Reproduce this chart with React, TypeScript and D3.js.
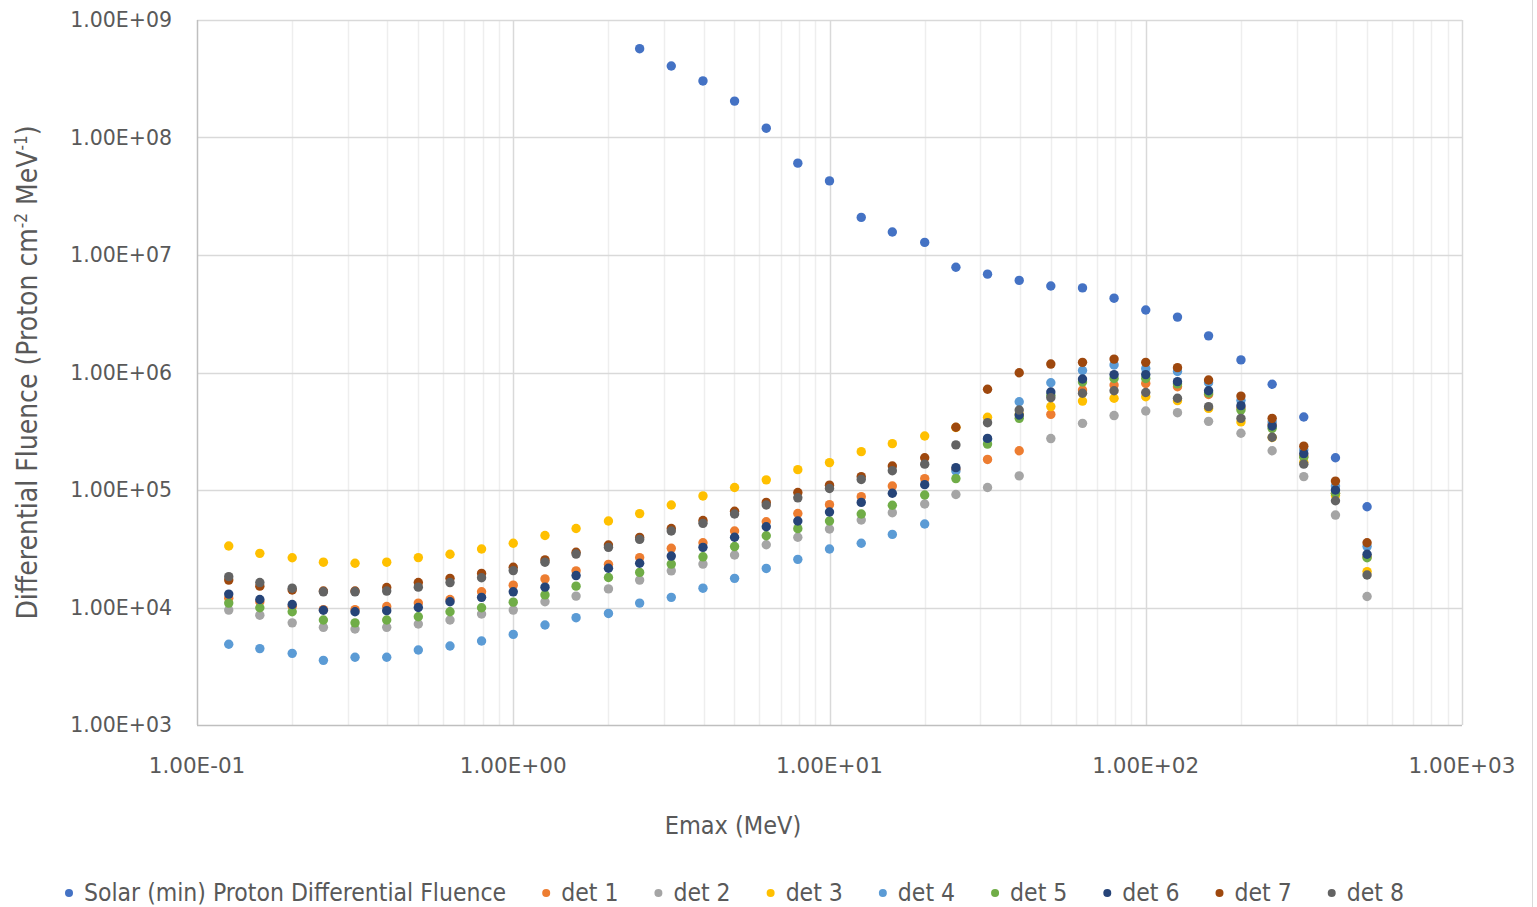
import { useRef, useEffect } from 'react';
import * as d3 from 'd3';

const W = 1537;
const H = 907;
const MARGIN = { top: 20, right: 75, bottom: 182, left: 197 };

// Emax (MeV) of each bin
const energy = [
  0.126, 0.158, 0.2, 0.251, 0.316, 0.398, 0.501, 0.631, 0.794, 1.0,
  1.26, 1.58, 2.0, 2.51, 3.16, 3.98, 5.01, 6.31, 7.94, 10,
  12.6, 15.8, 20, 25.1, 31.6, 39.8, 50.1, 63.1, 79.4, 100,
  126, 158, 200, 251, 316, 398, 501,
];

const solar = [
  null, null, null, null, null, null, null, null, null, null,
  null, null, null, 5.7e8, 4.06e8, 3.03e8, 2.04e8, 1.2e8, 6.05e7, 4.27e7,
  2.09e7, 1.57e7, 1.28e7, 7.87e6, 6.87e6, 6.08e6, 5.45e6, 5.25e6, 4.29e6, 3.4e6,
  2.96e6, 2.05e6, 1.28e6, 7.94e5, 4.18e5, 1.88e5, 7.2e4,
];
const det1 = [
  1.2e4, 1.12e4, 1.02e4, 9.6e3, 9.6e3, 1.02e4, 1.09e4, 1.17e4, 1.36e4, 1.55e4,
  1.75e4, 2.05e4, 2.33e4, 2.66e4, 3.19e4, 3.56e4, 4.48e4, 5.37e4, 6.31e4, 7.5e4,
  8.77e4, 1.08e5, 1.25e5, 1.5e5, 1.82e5, 2.16e5, 4.4e5, 7.1e5, 7.83e5, 8.07e5,
  7.57e5, 6.5e5, 5.0e5, 3.6e5, 1.95e5, 9.4e4, 2.7e4,
];
const det2 = [
  9.5e3, 8.6e3, 7.4e3, 6.78e3, 6.56e3, 6.78e3, 7.24e3, 7.83e3, 8.8e3, 9.5e3,
  1.12e4, 1.25e4, 1.44e4, 1.71e4, 2.05e4, 2.34e4, 2.8e4, 3.42e4, 3.96e4, 4.66e4,
  5.56e4, 6.41e4, 7.6e4, 9.16e4, 1.05e5, 1.32e5, 2.74e5, 3.69e5, 4.3e5, 4.7e5,
  4.55e5, 3.84e5, 3.04e5, 2.16e5, 1.3e5, 6.12e4, 1.24e4,
];
const det3 = [
  3.34e4, 2.89e4, 2.65e4, 2.43e4, 2.38e4, 2.43e4, 2.66e4, 2.84e4, 3.15e4, 3.52e4,
  4.1e4, 4.7e4, 5.45e4, 6.3e4, 7.45e4, 8.9e4, 1.05e5, 1.22e5, 1.49e5, 1.71e5,
  2.12e5, 2.48e5, 2.88e5, 3.4e5, 4.16e5, 4.4e5, 5.13e5, 5.71e5, 6.04e5, 6.22e5,
  5.76e5, 4.95e5, 3.8e5, 2.8e5, 1.72e5, 9.0e4, 2.02e4,
];
const det4 = [
  4.87e3, 4.47e3, 4.07e3, 3.55e3, 3.77e3, 3.77e3, 4.35e3, 4.7e3, 5.19e3, 5.9e3,
  7.1e3, 8.19e3, 8.9e3, 1.09e4, 1.22e4, 1.46e4, 1.77e4, 2.15e4, 2.57e4, 3.15e4,
  3.52e4, 4.19e4, 5.14e4, 1.45e5, 2.7e5, 5.64e5, 8.18e5, 1.04e6, 1.16e6, 1.08e6,
  1.02e6, 8.2e5, 5.8e5, 3.8e5, 2.2e5, 1.08e5, 3.3e4,
];
const det5 = [
  1.09e4, 9.96e3, 9.2e3, 7.83e3, 7.4e3, 7.83e3, 8.35e3, 9.2e3, 9.96e3, 1.11e4,
  1.28e4, 1.52e4, 1.8e4, 1.99e4, 2.34e4, 2.7e4, 3.3e4, 4.08e4, 4.69e4, 5.45e4,
  6.25e4, 7.41e4, 9.06e4, 1.25e5, 2.46e5, 4.07e5, 6.4e5, 8.3e5, 8.9e5, 8.9e5,
  8.0e5, 6.7e5, 4.8e5, 3.35e5, 1.9e5, 9.4e4, 2.65e4,
];
const det6 = [
  1.3e4, 1.17e4, 1.06e4, 9.47e3, 9.2e3, 9.4e3, 1.0e4, 1.12e4, 1.22e4, 1.36e4,
  1.49e4, 1.87e4, 2.16e4, 2.38e4, 2.74e4, 3.25e4, 3.96e4, 4.87e4, 5.45e4, 6.5e4,
  7.84e4, 9.38e4, 1.11e5, 1.55e5, 2.75e5, 4.35e5, 6.82e5, 8.8e5, 9.6e5, 9.6e5,
  8.36e5, 7.0e5, 5.22e5, 3.51e5, 2.04e5, 1.0e5, 2.84e4,
];
const det7 = [
  1.71e4, 1.52e4, 1.41e4, 1.38e4, 1.38e4, 1.48e4, 1.63e4, 1.77e4, 1.95e4, 2.2e4,
  2.54e4, 2.95e4, 3.4e4, 3.95e4, 4.7e4, 5.5e4, 6.6e4, 7.84e4, 9.53e4, 1.1e5,
  1.3e5, 1.6e5, 1.88e5, 3.42e5, 7.2e5, 9.95e5, 1.18e6, 1.22e6, 1.3e6, 1.22e6,
  1.1e6, 8.63e5, 6.3e5, 4.07e5, 2.36e5, 1.19e5, 3.56e4,
];
const det8 = [
  1.83e4, 1.63e4, 1.46e4, 1.36e4, 1.36e4, 1.38e4, 1.49e4, 1.63e4, 1.79e4, 2.06e4,
  2.43e4, 2.85e4, 3.25e4, 3.8e4, 4.48e4, 5.2e4, 6.25e4, 7.45e4, 8.58e4, 1.03e5,
  1.23e5, 1.46e5, 1.66e5, 2.42e5, 3.74e5, 4.8e5, 6.1e5, 6.66e5, 7.0e5, 6.76e5,
  6.04e5, 5.12e5, 4.07e5, 2.81e5, 1.66e5, 8.1e4, 1.89e4,
];

const seriesNames = [
  'Solar (min) Proton Differential Fluence',
  'det 1', 'det 2', 'det 3', 'det 4', 'det 5', 'det 6', 'det 7', 'det 8',
];
const seriesValues = [solar, det1, det2, det3, det4, det5, det6, det7, det8];
const seriesColors = [
  '#4472C4', '#ED7D31', '#A5A5A5', '#FFC000', '#5B9BD5',
  '#70AD47', '#264478', '#9E480E', '#636363',
];

const xTicks = [0.1, 1, 10, 100, 1000];
const yTicks = [1e3, 1e4, 1e5, 1e6, 1e7, 1e8, 1e9];

const TICK_FONT = '"DejaVu Sans", Verdana, sans-serif';
const LABEL_FONT = '"Liberation Sans Narrow", "DejaVu Sans Condensed", "Open Sans", sans-serif';

function sci(v: number) {
  const e = Math.round(Math.log10(v));
  const sign = e < 0 ? '-' : '+';
  return `1.00E${sign}${String(Math.abs(e)).padStart(2, '0')}`;
}

export default function App() {
  const svgRef = useRef<SVGSVGElement | null>(null);

  useEffect(() => {
    if (!svgRef.current) return;
    const svg = d3.select(svgRef.current);
    svg.selectAll('*').remove();

    const innerW = W - MARGIN.left - MARGIN.right;
    const innerH = H - MARGIN.top - MARGIN.bottom;

    const x = d3.scaleLog().domain([0.1, 1000]).range([0, innerW]);
    const y = d3.scaleLog().domain([1e3, 1e9]).range([innerH, 0]);

    svg.append('rect').attr('width', W).attr('height', H).attr('fill', '#fff');
    // chart-area border on the right edge
    svg.append('line')
      .attr('x1', W - 4.5).attr('x2', W - 4.5)
      .attr('y1', 0).attr('y2', H)
      .attr('stroke', '#d9d9d9');

    const g = svg.append('g').attr('transform', `translate(${MARGIN.left},${MARGIN.top})`);

    // --- minor vertical gridlines ---
    const minor: number[] = [];
    for (let d = 0.1; d < 1000; d *= 10) {
      for (let k = 2; k <= 9; k++) minor.push(d * k);
    }
    g.append('g')
      .selectAll('line')
      .data(minor)
      .join('line')
      .attr('x1', (d) => Math.round(x(d)) + 0.5)
      .attr('x2', (d) => Math.round(x(d)) + 0.5)
      .attr('y1', 0)
      .attr('y2', innerH)
      .attr('stroke', '#eeeeee')
      .attr('stroke-width', 1.5);

    // --- major gridlines ---
    g.append('g')
      .selectAll('line')
      .data(xTicks.slice(1))
      .join('line')
      .attr('x1', (d) => Math.round(x(d)) + 0.5)
      .attr('x2', (d) => Math.round(x(d)) + 0.5)
      .attr('y1', 0)
      .attr('y2', innerH)
      .attr('stroke', '#d9d9d9')
      .attr('stroke-width', 1.5);

    g.append('g')
      .selectAll('line')
      .data(yTicks.slice(1))
      .join('line')
      .attr('x1', 0)
      .attr('x2', innerW)
      .attr('y1', (d) => Math.round(y(d)) + 0.5)
      .attr('y2', (d) => Math.round(y(d)) + 0.5)
      .attr('stroke', '#d9d9d9')
      .attr('stroke-width', 1.5);

    // --- axis lines ---
    g.append('line')
      .attr('x1', 0.5).attr('x2', 0.5)
      .attr('y1', 0).attr('y2', innerH)
      .attr('stroke', '#bfbfbf').attr('stroke-width', 1.5);
    g.append('line')
      .attr('x1', 0).attr('x2', innerW)
      .attr('y1', innerH + 0.5).attr('y2', innerH + 0.5)
      .attr('stroke', '#bfbfbf').attr('stroke-width', 1.5);

    // --- tick labels ---
    g.append('g')
      .selectAll('text')
      .data(yTicks)
      .join('text')
      .attr('x', -25)
      .attr('y', (d) => y(d))
      .attr('dy', '0.36em')
      .attr('text-anchor', 'end')
      .attr('font-family', TICK_FONT)
      .attr('font-size', 20.5)
      .attr('fill', '#595959')
      .text((d) => sci(d));

    g.append('g')
      .selectAll('text')
      .data(xTicks)
      .join('text')
      .attr('x', (d) => x(d))
      .attr('y', innerH + 40)
      .attr('dy', '0.36em')
      .attr('text-anchor', 'middle')
      .attr('font-family', TICK_FONT)
      .attr('font-size', 21.5)
      .attr('fill', '#595959')
      .text((d) => sci(d));

    // --- axis titles ---
    svg.append('text')
      .attr('x', 733)
      .attr('y', 825)
      .attr('dy', '0.36em')
      .attr('text-anchor', 'middle')
      .attr('font-family', LABEL_FONT)
      .attr('font-size', 25)
      .attr('fill', '#595959')
      .text('Emax (MeV)');

    const yt = svg.append('text')
      .attr('transform', `translate(27,${MARGIN.top + innerH / 2}) rotate(-90)`)
      .attr('text-anchor', 'middle')
      .attr('dy', '0.36em')
      .attr('font-family', LABEL_FONT)
      .attr('font-size', 28)
      .attr('fill', '#595959');
    yt.append('tspan').text('Differential  Fluence (Proton cm');
    yt.append('tspan').attr('dy', -10).attr('font-size', 17).text('-2');
    yt.append('tspan').attr('dy', 10).text(' MeV');
    yt.append('tspan').attr('dy', -10).attr('font-size', 17).text('-1');
    yt.append('tspan').attr('dy', 10).text(')');

    // --- points ---
    seriesValues.forEach((vals, si) => {
      const pts = energy
        .map((e, i) => ({ e, v: vals[i] }))
        .filter((p) => p.v != null) as { e: number; v: number }[];
      g.append('g')
        .selectAll('circle')
        .data(pts)
        .join('circle')
        .attr('cx', (p) => x(p.e))
        .attr('cy', (p) => y(p.v))
        .attr('r', 4.7)
        .attr('fill', seriesColors[si]);
    });

    // --- legend ---
    const lg = svg.append('g').attr('transform', 'translate(0,893)');
    let cx = 69;
    seriesNames.forEach((name, i) => {
      lg.append('circle').attr('cx', cx).attr('cy', 0).attr('r', 4).attr('fill', seriesColors[i]);
      const t = lg.append('text')
        .attr('x', cx + 15)
        .attr('y', 0)
        .attr('dy', '0.33em')
        .attr('font-family', LABEL_FONT)
        .attr('font-size', 24.5)
        .attr('fill', '#595959')
        .text(name);
      const w = (t.node() as SVGTextElement).getComputedTextLength();
      cx = cx + 15 + w + 40;
    });
  }, []);

  return (
    <svg
      ref={svgRef}
      width={W}
      height={H}
      style={{ position: 'absolute', left: 0, top: 0, display: 'block' }}
    />
  );
}
